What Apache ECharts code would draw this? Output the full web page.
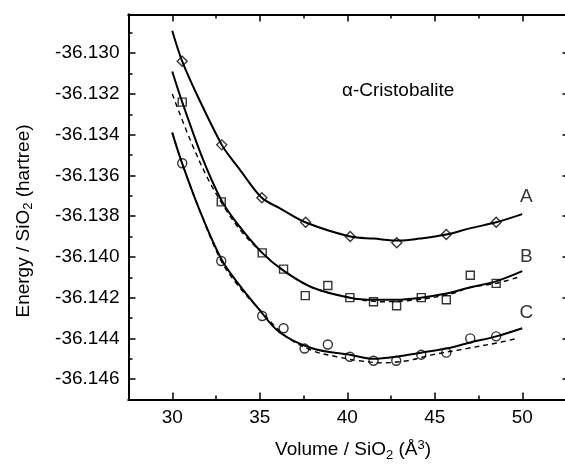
<!DOCTYPE html>
<html>
<head>
<meta charset="utf-8">
<script src="https://cdn.jsdelivr.net/npm/echarts@6/dist/echarts.min.js"></script>
<style>
html,body{margin:0;padding:0;background:#fff;}
#c{width:565px;height:464px;}
</style>
</head>
<body>
<div id="c"></div>
<script>
// ---- data ----
const volA = [30.57, 32.83, 35.12, 37.62, 40.17, 42.83, 45.66, 48.51];
const energyA = [-36.1304, -36.1345, -36.1371, -36.1383, -36.1390, -36.1393, -36.1389, -36.1383];

const volB = [30.57, 32.80, 35.14, 36.36, 37.60, 38.89, 40.15, 41.50, 42.82, 44.23, 45.66, 47.03, 48.51];
const energyB = [-36.1324, -36.1373, -36.1398, -36.1406, -36.1419, -36.1414, -36.1420, -36.1422, -36.1424, -36.1420, -36.1421, -36.1409, -36.1413];

const volC = [30.57, 32.80, 35.14, 36.36, 37.56, 38.89, 40.15, 41.50, 42.80, 44.23, 45.66, 47.03, 48.51];
const energyC = [-36.1354, -36.1402, -36.1429, -36.1435, -36.1445, -36.1443, -36.1449, -36.1451, -36.1451, -36.1448, -36.1447, -36.1440, -36.1439];

// solid fitted curves
const fitVolA = [30, 30.57, 31.5, 32.83, 33.4, 33.85, 35.12, 36.13, 37.6, 40.17, 41.5, 43, 44.13, 45.66, 47, 48.51, 50];
const fitA = [-36.1289, -36.1304, -36.1322, -36.1345, -36.1352, -36.1357, -36.1371, -36.1376, -36.1383, -36.1390, -36.1391, -36.1392, -36.1391, -36.1389, -36.1386, -36.1383, -36.1379];

const fitVolB = [30, 30.57, 31.75, 32.8, 33.66, 35.14, 36.4, 38, 40.15, 41.5, 42.8, 44.2, 45.66, 47, 48.5, 50];
const fitB = [-36.1309, -36.1324, -36.1352, -36.1372, -36.1383, -36.1398, -36.1407, -36.1415, -36.1420, -36.1421, -36.1421, -36.1420, -36.1418, -36.1415, -36.1412, -36.1407];

const fitVolC = [30, 30.52, 31.56, 32.8, 33.85, 34.89, 36.13, 38.03, 40.15, 41.5, 42.8, 44.2, 45.66, 47.03, 48.51, 50];
const fitC = [-36.1339, -36.1353, -36.1377, -36.1401, -36.1414, -36.1425, -36.1437, -36.1445, -36.1448, -36.1450, -36.1449, -36.1447, -36.1445, -36.1442, -36.1439, -36.1435];

// dashed curves
const dashVolB = [30, 31, 32, 33, 34, 35.14, 36.4, 38, 40.15, 42, 44, 46, 47, 48.5, 49.75];
const dashB = [-36.1320, -36.1342, -36.1361, -36.1376, -36.1388, -36.1398, -36.1407, -36.1415, -36.1420, -36.1422, -36.1421, -36.1418, -36.1415, -36.1413, -36.1410];

const dashVolC = [30, 30.52, 31.56, 32.8, 33.85, 34.89, 36.5, 38, 39.4, 40.7, 42, 43.4, 44.9, 46.8, 48.7, 49.7];
const dashC = [-36.1339, -36.1353, -36.1377, -36.1402, -36.1415, -36.1425, -36.1439, -36.1446, -36.1449, -36.1451, -36.1452, -36.1451, -36.1448, -36.1445, -36.1442, -36.1440];

// curve labels
const curveNames = ['A', 'B', 'C'];
const curveLabelVol = [50.23, 50.23, 50.23];
const curveLabelEnergy = [-36.13704, -36.14001, -36.14276];

// ticks
const xMajorTicks = [30, 35, 40, 45, 50];
const xMinorTicks = [32.5, 37.5, 42.5, 47.5, 52.5];
const yMajorTicks = [-36.146, -36.144, -36.142, -36.140, -36.138, -36.136, -36.134, -36.132, -36.130];
const yMinorTicks = [-36.145, -36.143, -36.141, -36.139, -36.137, -36.135, -36.133, -36.131, -36.129];

const titleText = 'α-Cristobalite';

// ---- chart ----
const zip = (xs, ys) => xs.map((x, i) => [x, ys[i]]);
const FONT = 'Liberation Sans, Arial, Helvetica, sans-serif';
const XMIN = 27.5, XMAX = 52.7, YMIN = -36.147, YMAX = -36.1281;
const axisLineStyle = {color: '#000', width: 2};

function xAx(pos, ticks, len, labels, extra) {
  return Object.assign({
    type: 'value', position: pos, min: XMIN, max: XMAX,
    axisLine: {show: true, onZero: false, lineStyle: axisLineStyle},
    axisTick: {show: true, inside: true, length: len, customValues: ticks, lineStyle: {color: '#000', width: 1.5}},
    axisLabel: labels ? {show: true, customValues: ticks, color: '#000', fontSize: 19, fontFamily: FONT, margin: 9} : {show: false},
    splitLine: {show: false}
  }, extra || {});
}
function yAx(pos, ticks, len, labels, extra) {
  return Object.assign({
    type: 'value', position: pos, min: YMIN, max: YMAX,
    axisLine: {show: true, onZero: false, lineStyle: axisLineStyle},
    axisTick: {show: true, inside: true, length: len, customValues: ticks, lineStyle: {color: '#000', width: 1.5}},
    axisLabel: labels ? {show: true, customValues: ticks, color: '#000', fontSize: 19, fontFamily: FONT, margin: 9,
      formatter: v => v.toFixed(3)} : {show: false},
    splitLine: {show: false}
  }, extra || {});
}

const chart = echarts.init(document.getElementById('c'), null, {renderer: 'canvas'});

const solid = (name, data) => ({
  name, type: 'line', data, smooth: 0.35, showSymbol: false, symbol: 'none',
  xAxisIndex: 0, yAxisIndex: 0, silent: true,
  lineStyle: {color: '#000', width: 2}, z: 3
});
const dashed = (name, data) => ({
  name, type: 'line', data, smooth: 0.35, showSymbol: false, symbol: 'none',
  xAxisIndex: 0, yAxisIndex: 0, silent: true,
  lineStyle: {color: '#000', width: 1.4, type: [5, 4]}, z: 3
});
const pts = (name, data, symbol, size) => ({
  name, type: 'scatter', data, symbol, symbolSize: size,
  xAxisIndex: 0, yAxisIndex: 0, silent: true,
  itemStyle: {color: 'rgba(255,255,255,0)', borderColor: '#000', borderWidth: 1.4}, z: 5
});

chart.setOption({
  backgroundColor: '#fff',
  animation: false,
  grid: {left: 128.5, top: 14.5, width: 441, height: 385, containLabel: false, outerBoundsMode: 'none'},
  xAxis: [
    xAx('bottom', xMajorTicks, 7, true, {
      name: 'Volume / SiO{sub|2} (Å{sup|3})',
      nameLocation: 'middle', nameGap: 39,
      nameTextStyle: {color: '#000', fontSize: 19, fontFamily: FONT, padding: [0, 0, 0, 8],
        rich: {
          sub: {fontSize: 13, fontFamily: FONT, color: '#000', verticalAlign: 'bottom', padding: [8, 0, 0, 0]},
          sup: {fontSize: 13, fontFamily: FONT, color: '#000', verticalAlign: 'top', padding: [0, 0, 10, 0]}
        }}
    }),
    xAx('bottom', xMinorTicks, 4, false),
    xAx('top', xMajorTicks, 7, false),
    xAx('top', xMinorTicks, 4, false)
  ],
  yAxis: [
    yAx('left', yMajorTicks, 7, true, {
      name: 'Energy / SiO{sub|2} (hartree)',
      nameLocation: 'middle', nameGap: 94, nameRotate: 90,
      nameTextStyle: {color: '#000', fontSize: 19, fontFamily: FONT, padding: [0, 28, 0, 0],
        rich: {
          sub: {fontSize: 13, fontFamily: FONT, color: '#000', verticalAlign: 'bottom', padding: [8, 0, 0, 0]}
        }}
    }),
    yAx('left', yMinorTicks, 4, false),
    yAx('right', yMajorTicks, 7, false),
    yAx('right', yMinorTicks, 4, false)
  ],
  series: [
    solid('fitA', zip(fitVolA, fitA)),
    solid('fitB', zip(fitVolB, fitB)),
    solid('fitC', zip(fitVolC, fitC)),
    dashed('dashB', zip(dashVolB, dashB)),
    dashed('dashC', zip(dashVolC, dashC)),
    pts('A', zip(volA, energyA), 'diamond', 10),
    pts('B', zip(volB, energyB), 'rect', 8),
    pts('C', zip(volC, energyC), 'circle', 9),
    {
      name: 'labels', type: 'scatter', xAxisIndex: 0, yAxisIndex: 0, silent: true,
      symbol: 'circle', symbolSize: 1, itemStyle: {color: 'rgba(0,0,0,0)'},
      data: curveNames.map((n, i) => ({name: n, value: [curveLabelVol[i], curveLabelEnergy[i]]})),
      label: {show: true, position: 'inside', formatter: p => p.name, color: '#000', fontSize: 19, fontFamily: FONT}
    }
  ],
  graphic: [{
    type: 'text', left: 342, top: 81,
    style: {text: titleText, fill: '#000', fontSize: 19, fontFamily: FONT}
  }]
});
</script>
</body>
</html>
